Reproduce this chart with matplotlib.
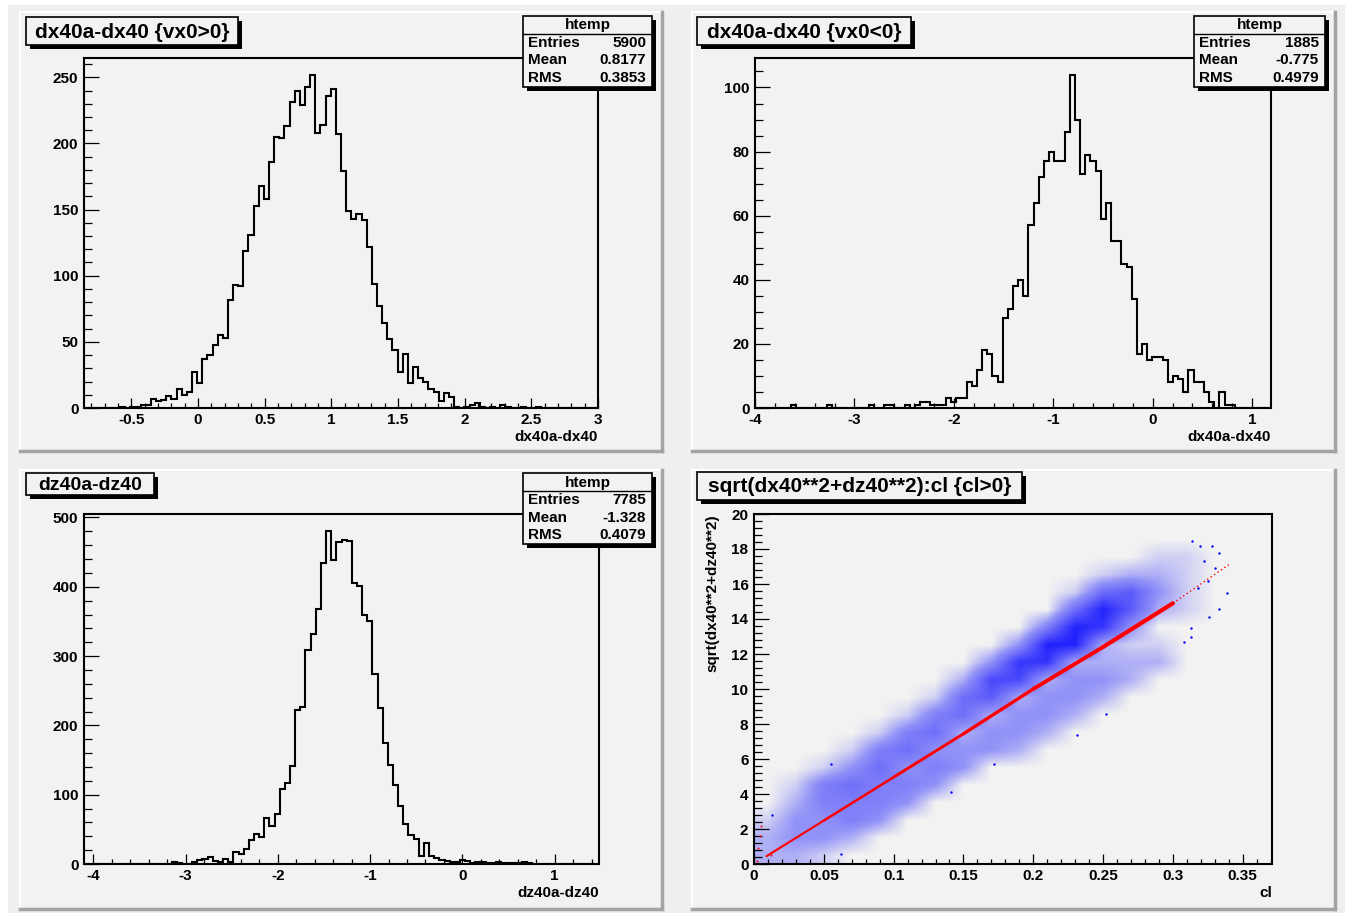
import numpy as np
import matplotlib
matplotlib.use('Agg')
import matplotlib.pyplot as plt
from matplotlib.ticker import MultipleLocator, FuncFormatter
from matplotlib.colors import LinearSegmentedColormap
from matplotlib.patches import Rectangle

W, H = 1349, 913
plt.rcParams['font.family'] = ['Liberation Sans', 'DejaVu Sans']
plt.rcParams['font.weight'] = 'bold'

# ---- data ----
# dx40a-dx40 {vx0>0}: 100 bins, -0.856 .. 3.0
dx_pos_range = (-0.856, 3.0)
dx_pos_counts = [0, 0, 0, 0, 0, 0, 0, 1, 0, 1,
                 1, 2, 2, 7, 5, 6, 9, 7, 14, 10,
                 12, 27, 19, 37, 40, 48, 55, 53, 82, 93,
                 92, 119, 131, 153, 168, 158, 186, 205, 204, 213,
                 231, 240, 229, 243, 252, 208, 214, 236, 241, 207,
                 179, 149, 143, 147, 142, 122, 94, 77, 64, 52,
                 44, 27, 41, 19, 31, 23, 20, 14, 12, 5,
                 11, 8, 1, 0, 1, 2, 4, 1, 0, 1,
                 0, 2, 1, 0, 0, 1, 0, 0, 1, 0,
                 0, 0, 0, 0, 0, 0, 0, 0, 0, 0]

# dx40a-dx40 {vx0<0}: 100 bins, -4.0 .. 1.19
dx_neg_range = (-4.0, 1.19)
dx_neg_counts = [0, 0, 0, 0, 0, 0, 0, 1, 0, 0,
                 0, 0, 0, 0, 1, 0, 0, 0, 0, 0,
                 0, 0, 1, 0, 0, 1, 1, 0, 0, 1,
                 0, 1, 2, 2, 1, 1, 1, 3, 2, 3,
                 3, 8, 7, 12, 18, 17, 10, 8, 28, 31,
                 38, 40, 35, 57, 64, 72, 77, 80, 77, 77,
                 86, 104, 90, 73, 79, 77, 74, 59, 64, 52,
                 52, 45, 44, 34, 17, 20, 15, 16, 16, 15,
                 8, 10, 9, 5, 12, 8, 8, 5, 2, 0,
                 5, 1, 1, 0, 0, 0, 0, 0, 0, 0]

# dz40a-dz40: 100 bins, -4.1 .. 1.48
dz_range = (-4.1, 1.48)
dz_counts = [0, 0, 0, 0, 0, 0, 0, 0, 0, 0,
             0, 0, 0, 0, 0, 0, 0, 3, 2, 0,
             0, 3, 6, 7, 10, 4, 3, 7, 3, 18,
             15, 22, 35, 43, 39, 66, 55, 72, 108, 117,
             142, 222, 227, 309, 332, 368, 435, 481, 439, 464,
             467, 466, 405, 401, 359, 350, 274, 225, 174, 143,
             114, 84, 58, 42, 36, 11, 30, 11, 8, 6,
             4, 3, 3, 6, 5, 2, 3, 3, 2, 2,
             3, 2, 1, 2, 1, 3, 2, 0, 0, 0,
             0, 0, 0, 0, 0, 0, 0, 0, 0, 0]

stats = {
    'dx_pos': ('5900', '0.8177', '0.3853'),
    'dx_neg': ('1885', '-0.775', '0.4979'),
    'dz': ('7785', '-1.328', '0.4079'),
}

# scatter: blue point density, columns of cl (0.02 wide, 0..0.36),
# each column lists density in y rows of 1 (0..20)
blue_density_cols = [
    [2, 2, 1, 0, 0, 0, 0, 0, 0, 0, 0, 0, 0, 0, 0, 0, 0, 0, 0, 0],
    [2, 3, 3, 2, 1, 0, 0, 0, 0, 0, 0, 0, 0, 0, 0, 0, 0, 0, 0, 0],
    [1, 3, 3, 4, 4, 1, 0, 0, 0, 0, 0, 0, 0, 0, 0, 0, 0, 0, 0, 0],
    [0, 2, 4, 4, 5, 3, 1, 0, 0, 0, 0, 0, 0, 0, 0, 0, 0, 0, 0, 0],
    [0, 0, 3, 4, 4, 5, 4, 1, 0, 0, 0, 0, 0, 0, 0, 0, 0, 0, 0, 0],
    [0, 0, 0, 3, 4, 3, 5, 4, 1, 0, 0, 0, 0, 0, 0, 0, 0, 0, 0, 0],
    [0, 0, 0, 0, 3, 4, 3, 5, 4, 1, 0, 0, 0, 0, 0, 0, 0, 0, 0, 0],
    [0, 0, 0, 0, 0, 3, 3, 2, 5, 5, 2, 0, 0, 0, 0, 0, 0, 0, 0, 0],
    [0, 0, 0, 0, 0, 0, 3, 3, 2, 6, 7, 3, 0, 0, 0, 0, 0, 0, 0, 0],
    [0, 0, 0, 0, 0, 0, 2, 3, 3, 2, 7, 8, 3, 0, 0, 0, 0, 0, 0, 0],
    [0, 0, 0, 0, 0, 0, 0, 2, 3, 3, 2, 8, 9, 4, 0, 0, 0, 0, 0, 0],
    [0, 0, 0, 0, 0, 0, 0, 0, 2, 3, 3, 2, 9, 9, 5, 1, 0, 0, 0, 0],
    [0, 0, 0, 0, 0, 0, 0, 0, 0, 2, 3, 2, 2, 8, 9, 5, 1, 0, 0, 0],
    [0, 0, 0, 0, 0, 0, 0, 0, 0, 0, 2, 2, 1, 3, 6, 6, 2, 0, 0, 0],
    [0, 0, 0, 0, 0, 0, 0, 0, 0, 0, 0, 2, 1, 0, 2, 3, 2, 1, 0, 0],
    [0, 0, 0, 0, 0, 0, 0, 0, 0, 0, 0, 0, 0, 0, 1, 1, 1, 1, 0, 0],
    [0, 0, 0, 0, 0, 0, 0, 0, 0, 0, 0, 0, 0, 0, 0, 0, 0, 0, 0, 0],
    [0, 0, 0, 0, 0, 0, 0, 0, 0, 0, 0, 0, 0, 0, 0, 0, 0, 0, 0, 0],
]
blue_out_x = [0.314, 0.3195, 0.328, 0.333, 0.339, 0.333, 0.326, 0.313, 0.313,
              0.308, 0.231, 0.252, 0.172, 0.141, 0.055, 0.013, 0.062,
              0.325, 0.33, 0.322, 0.318]
blue_out_y = [18.45, 18.2, 18.2, 17.75, 15.5, 14.6, 14.1, 13.5, 13.0,
              12.7, 7.35, 8.6, 5.7, 4.1, 5.7, 2.8, 0.57,
              16.2, 16.9, 17.3, 15.8]

red_x = [0.009, 0.05, 0.10, 0.15, 0.20, 0.25, 0.30]
red_y = [0.45, 2.48, 4.96, 7.44, 10.0, 12.4, 14.9]
red_w = [1.5, 1.8, 2.1, 2.4, 2.8, 3.0]
red_tail_x = [0.30, 0.34]
red_tail_y = [14.9, 17.1]
red_dots_x = [0.002, 0.003, 0.004, 0.005, 0.012]
red_dots_y = [0.2, 0.9, 1.6, 2.2, 0.5]

# ---- figure ----
fig = plt.figure(figsize=(W / 100, H / 100), dpi=100, facecolor='white')

bg = fig.add_axes([0, 0, 1, 1], zorder=-5)
bg.set_xlim(0, W)
bg.set_ylim(H, 0)
bg.axis('off')
bg.add_patch(Rectangle((8, 5), W - 12, H - 5, fc='#efefef', ec='none'))

pad_col = '#f2f2f2'
for x0, y0, x1, y1 in [(20, 12, 662, 451), (692, 12, 1335, 451),
                       (20, 470, 662, 909), (692, 470, 1335, 909)]:
    bg.add_patch(Rectangle((x0, y0), x1 - x0, y1 - y0, fc=pad_col, ec='none'))
    bg.plot([x0, x1], [y0, y0], color='white', lw=1.5)
    bg.plot([x0, x0], [y0, y1], color='white', lw=1.5)
    bg.plot([x0, x1], [y1, y1], color='#a3a3a3', lw=2.5)
    bg.plot([x1, x1], [y0, y1], color='#a3a3a3', lw=2.5)

fg = fig.add_axes([0, 0, 1, 1], zorder=5)
fg.set_xlim(0, W)
fg.set_ylim(H, 0)
fg.axis('off')
fg.patch.set_alpha(0)


def fmt(v, pos):
    v = round(v, 6)
    if v == 0:
        v = 0.0
    return f'{v:g}'


def frame(l, t, r, b, xmaj, xmin, ymaj, ymin):
    ax = fig.add_axes([l / W, 1 - b / H, (r - l) / W, (b - t) / H])
    ax.set_facecolor(pad_col)
    for s in ax.spines.values():
        s.set_linewidth(1.5)
    ax.xaxis.set_major_locator(MultipleLocator(xmaj))
    ax.xaxis.set_minor_locator(MultipleLocator(xmin))
    ax.yaxis.set_major_locator(MultipleLocator(ymaj))
    ax.yaxis.set_minor_locator(MultipleLocator(ymin))
    ax.xaxis.set_major_formatter(FuncFormatter(fmt))
    ax.yaxis.set_major_formatter(FuncFormatter(fmt))
    ax.tick_params(axis='y', which='major', direction='in', length=11, width=0.9,
                   labelsize=11, pad=4, right=False)
    ax.tick_params(axis='y', which='minor', direction='in', length=5.5, width=0.9, right=False)
    ax.tick_params(axis='x', which='major', direction='in', length=7.5, width=0.9,
                   labelsize=11, pad=3.5, top=False)
    ax.tick_params(axis='x', which='minor', direction='in', length=3.8, width=0.9, top=False)
    return ax


def hist(ax, counts, rng, xlabel):
    edges = np.linspace(rng[0], rng[1], len(counts) + 1)
    ax.stairs(counts, edges, color='black', lw=1.5, baseline=0)
    ax.set_xlim(rng)
    ax.set_ylim(0, 1.05 * max(counts))
    ax.text(1.0, -29 / 350, xlabel, transform=ax.transAxes, ha='right', va='center', size=11)


def title_box(x0, y0, x1, y1, text, size):
    fg.add_patch(Rectangle((x0 + 4, y0 + 4), x1 - x0, y1 - y0, fc='black', ec='none'))
    fg.add_patch(Rectangle((x0, y0), x1 - x0, y1 - y0, fc=pad_col, ec='black', lw=1.2))
    fg.text((x0 + x1) / 2, (y0 + y1) / 2 + 1, text, ha='center', va='center', size=size)


def stats_box(x0, y0, x1, y1, vals):
    fg.add_patch(Rectangle((x0 + 4, y0 + 4), x1 - x0, y1 - y0, fc='black', ec='none'))
    fg.add_patch(Rectangle((x0, y0), x1 - x0, y1 - y0, fc=pad_col, ec='black', lw=1.2))
    fg.plot([x0, x1], [y0 + 18, y0 + 18], color='black', lw=1.0)
    fg.text((x0 + x1) / 2, y0 + 9.5, 'htemp', ha='center', va='center', size=11)
    row_h = (y1 - y0 - 18) / 3
    for k, (lab, val) in enumerate(zip(['Entries', 'Mean', 'RMS'], vals)):
        yc = y0 + 18 + row_h * (k + 0.5)
        fg.text(x0 + 5, yc, lab, ha='left', va='center', size=11)
        fg.text(x1 - 6, yc, val, ha='right', va='center', size=11)


# top left
ax1 = frame(84, 58, 598, 408, 0.5, 0.1, 50, 10)
hist(ax1, dx_pos_counts, dx_pos_range, 'dx40a-dx40')
title_box(26, 17, 238, 45, 'dx40a-dx40 {vx0>0}', 15)
stats_box(523, 16, 652, 87, stats['dx_pos'])

# top right
ax2 = frame(755, 58, 1271, 408, 1, 0.2, 20, 5)
hist(ax2, dx_neg_counts, dx_neg_range, 'dx40a-dx40')
title_box(697, 17, 911, 45, 'dx40a-dx40 {vx0<0}', 15)
stats_box(1194, 16, 1325, 87, stats['dx_neg'])

# bottom left
ax3 = frame(84, 514, 599, 864, 1, 0.2, 100, 20)
hist(ax3, dz_counts, dz_range, 'dz40a-dz40')
title_box(26, 473, 154, 495, 'dz40a-dz40', 14)
stats_box(523, 473, 652, 544, stats['dz'])

# bottom right: scatter
ax4 = frame(754, 514, 1272, 864, 0.05, 0.01, 2, 0.4)
dens = np.array(blue_density_cols).T
cmap = LinearSegmentedColormap.from_list(
    'blue_pts', [(0.0, (0, 0, 1, 0)), (0.3, (0.1, 0.1, 1, 0.45)), (1.0, (0, 0, 1, 0.95))])
ax4.imshow(dens, origin='lower', extent=(0, 0.36, 0, 20), aspect='auto',
           interpolation='bilinear', cmap=cmap, vmin=0, vmax=10, zorder=1)
ax4.scatter(blue_out_x, blue_out_y, s=3, color='blue', lw=0, zorder=2)
for i in range(len(red_w)):
    ax4.plot(red_x[i:i + 2], red_y[i:i + 2], color='red', lw=red_w[i],
             solid_capstyle='round', zorder=3)
ax4.plot(red_tail_x, red_tail_y, color='red', lw=1.0, ls=(0, (1, 2)), zorder=3)
ax4.scatter(red_dots_x, red_dots_y, s=2, color='red', lw=0, zorder=3)
ax4.set_xlim(0, 0.371)
ax4.set_ylim(0, 20)
ax4.text(1.0, -29 / 350, 'cl', transform=ax4.transAxes, ha='right', va='center', size=11)
ax4.text(-42 / 518, 1.0, 'sqrt(dx40**2+dz40**2)', transform=ax4.transAxes,
         rotation=90, ha='center', va='top', size=11)
title_box(697, 472, 1022, 500, 'sqrt(dx40**2+dz40**2):cl {cl>0}', 15)

fig.savefig('out.png', dpi=100, facecolor=fig.get_facecolor())
